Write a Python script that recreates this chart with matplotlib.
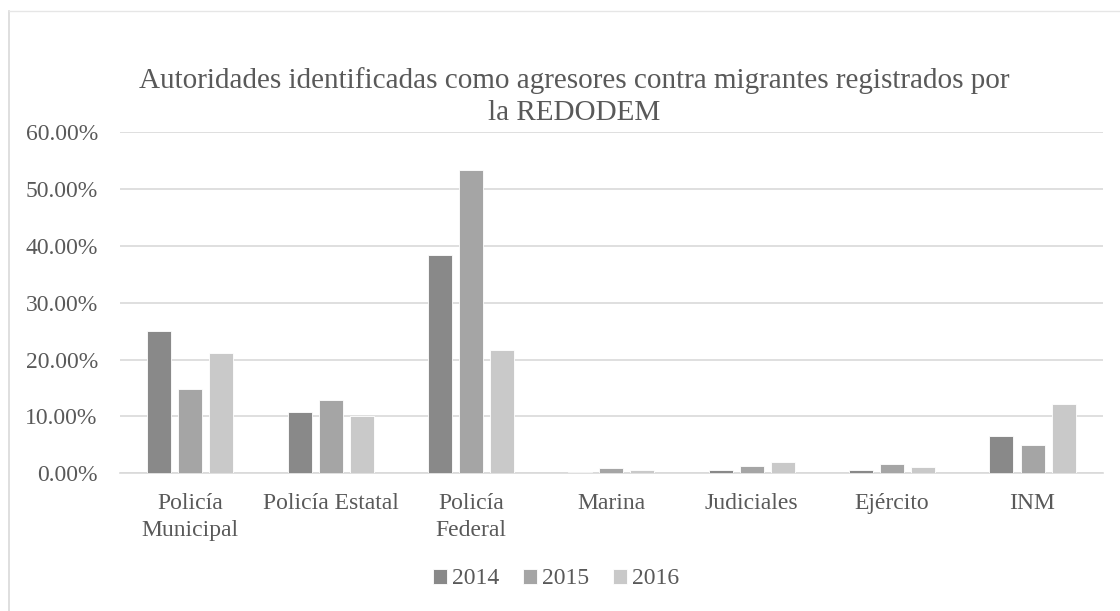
import matplotlib
matplotlib.use("Agg")
import matplotlib.pyplot as plt
from matplotlib.lines import Line2D
from matplotlib.ticker import FuncFormatter
import numpy as np

plt.rcParams['font.family'] = ['Liberation Serif', 'DejaVu Serif']

categories = ["Policía\nMunicipal", "Policía Estatal", "Policía\nFederal", "Marina",
              "Judiciales", "Ejército", "INM"]
years = ["2014", "2015", "2016"]
v2014 = [25.0, 10.8, 38.3, 0.2, 0.5, 0.55, 6.6]
v2015 = [14.8, 12.8, 53.3, 0.85, 1.2, 1.6, 5.0]
v2016 = [21.2, 10.1, 21.7, 0.6, 2.0, 1.1, 12.1]
series = [v2014, v2015, v2016]
colors = ["#898989", "#a5a5a5", "#c9c9c9"]
yticks = [0, 10, 20, 30, 40, 50, 60]

txt = "#595959"
fig = plt.figure(figsize=(11.2, 6.11), dpi=100)
ax = fig.add_axes([120/1120, 1-473.3/611, (1102.7-120)/1120, (473.3-131.9)/611])

x = np.arange(len(categories))
w = 0.171
step = 0.221
for i, (vals, c, lab) in enumerate(zip(series, colors, years)):
    ax.bar(x + (i-1)*step, np.array(vals)/100, width=w, color=c, label=lab,
           edgecolor="white", linewidth=0.6, zorder=3)

ax.set_xlim(-0.5, len(categories)-0.5)
ax.set_ylim(0, 0.6)
ax.set_yticks([t/100 for t in yticks])
ax.yaxis.set_major_formatter(FuncFormatter(lambda v, p: f"{v*100:.2f}%"))
ax.set_xticks(x)
ax.set_xticklabels(categories, linespacing=1.4)
ax.tick_params(axis='both', length=0, labelsize=17, colors=txt)
ax.tick_params(axis='x', pad=14)
ax.tick_params(axis='y', pad=16)
ax.grid(axis='y', color="#d9d9d9", linewidth=1.2, zorder=0)
for s in ["top", "right", "left"]:
    ax.spines[s].set_visible(False)
ax.spines["bottom"].set_color("#d9d9d9")
ax.spines["bottom"].set_linewidth(1.2)

fig.text(574/1120, 1-97/611, "Autoridades identificadas como agresores contra migrantes registrados por\nla REDODEM",
         ha="center", va="center", fontsize=21, color=txt, linespacing=1.3)

leg = fig.legend(loc="center", bbox_to_anchor=(556/1120, 1-579/611), ncol=3, frameon=False,
                 fontsize=17, handlelength=0.6, handleheight=0.6, handletextpad=0.2,
                 columnspacing=1.0, labelcolor=txt)

fig.add_artist(Line2D([9/1120, 9/1120], [0, 1-11/611], transform=fig.transFigure, color="#d9d9d9", linewidth=1.2))
fig.add_artist(Line2D([9/1120, 1], [1-11/611, 1-11/611], transform=fig.transFigure, color="#e6e6e6", linewidth=1.0))

fig.savefig("out.png", dpi=100, facecolor="white")
